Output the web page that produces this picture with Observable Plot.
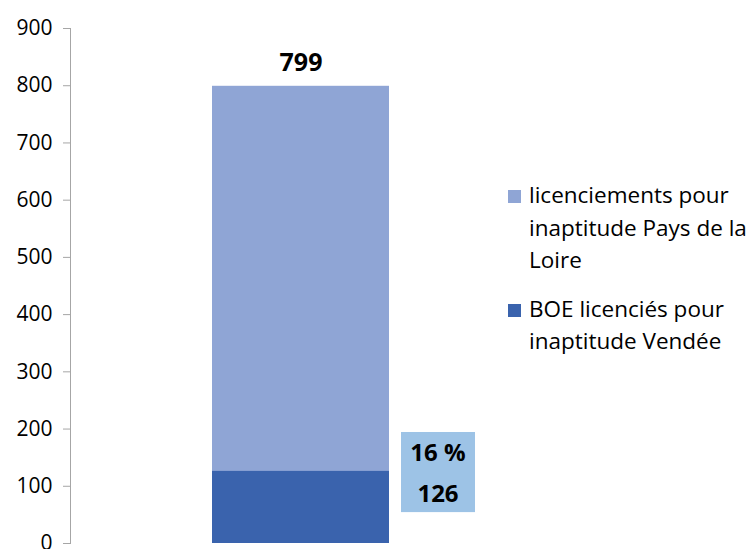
<!DOCTYPE html>
<html>
<head>
<meta charset="utf-8">
<script src="https://cdn.jsdelivr.net/npm/d3@7"></script>
<script src="https://cdn.jsdelivr.net/npm/@observablehq/plot@0.6"></script>
<style>
  body { margin: 0; background: #fff; }
  #wrap { position: relative; width: 756px; height: 549px; font-family: "Open Sans", sans-serif; overflow: hidden; }
  #legend { position: absolute; left: 508px; top: 179px; font-size: 22.5px; line-height: 32.5px; color: #000; white-space: nowrap; }
  .item { display: flex; align-items: flex-start; margin-bottom: 16px; }
  .sw { width: 13px; height: 13px; margin-top: 11px; margin-right: 8px; flex: none; }
</style>
</head>
<body>
<div id="wrap"></div>
<script>
const categories = ["Pays de la Loire"];
const totalValues = [799];
const boeValues = [126];
const seriesColors = ["#8FA5D5", "#3A63AD"];
const yTicks = [0, 100, 200, 300, 400, 500, 600, 700, 800, 900];

const totalData = categories.map((c, i) => ({cat: c, value: totalValues[i]}));
const boeData = categories.map((c, i) => ({cat: c, value: boeValues[i], pct: Math.round(100 * boeValues[i] / totalValues[i])}));

const boxMark = (index, scales, values, dimensions) => {
  const g = d3.create("svg:g");
  boeData.forEach(d => {
    const x0 = scales.x(d.cat) + scales.x.bandwidth() + 12;
    const yTop = scales.y(194), yBot = scales.y(54);
    g.append("rect").attr("x", x0).attr("y", yTop).attr("width", 74).attr("height", yBot - yTop).attr("fill", "#9DC3E6");
    const cx = x0 + 37;
    g.append("text").attr("x", cx).attr("y", yTop + 29.5).attr("text-anchor", "middle")
      .attr("font-size", 24).attr("font-weight", "bold").attr("font-family", "Open Sans, sans-serif").text(d.pct + " %");
    g.append("text").attr("x", cx).attr("y", yTop + 70.5).attr("text-anchor", "middle")
      .attr("font-size", 24).attr("font-weight", "bold").attr("font-family", "Open Sans, sans-serif").text(d.value);
  });
  return g.node();
};

const chart = Plot.plot({
  width: 756,
  height: 549,
  marginLeft: 70,
  marginRight: 224,
  marginTop: 28,
  marginBottom: 6,
  style: {fontFamily: "Open Sans, sans-serif", fontSize: "21px", color: "#000", background: "#fff", overflow: "visible"},
  x: {domain: categories, padding: 0.444, axis: null},
  y: {domain: [0, 900], ticks: yTicks, label: null},
  marks: [
    Plot.barY(totalData, {x: "cat", y: "value", fill: seriesColors[0]}),
    Plot.barY(boeData, {x: "cat", y: "value", fill: seriesColors[1]}),
    Plot.text(totalData, {x: "cat", y: "value", text: d => String(d.value), dy: -23, fontSize: 25, fontWeight: "bold", fill: "#000"}),
    boxMark,
    Plot.axisY({ticks: yTicks, tickSize: 7, tickPadding: 11, stroke: "#A6A6A6", fill: "#000", fontSize: 21, label: null}),
    Plot.frame({anchor: "left", stroke: "#A6A6A6"})
  ]
});

const wrap = document.getElementById("wrap");
wrap.appendChild(chart);
const legend = document.createElement("div");
legend.id = "legend";
legend.innerHTML = `
  <div class="item"><div class="sw" style="background:${seriesColors[0]}"></div><div>licenciements pour<br>inaptitude Pays de la<br>Loire</div></div>
  <div class="item"><div class="sw" style="background:${seriesColors[1]}"></div><div>BOE licenciés pour<br>inaptitude Vendée</div></div>`;
wrap.appendChild(legend);
</script>
</body>
</html>
